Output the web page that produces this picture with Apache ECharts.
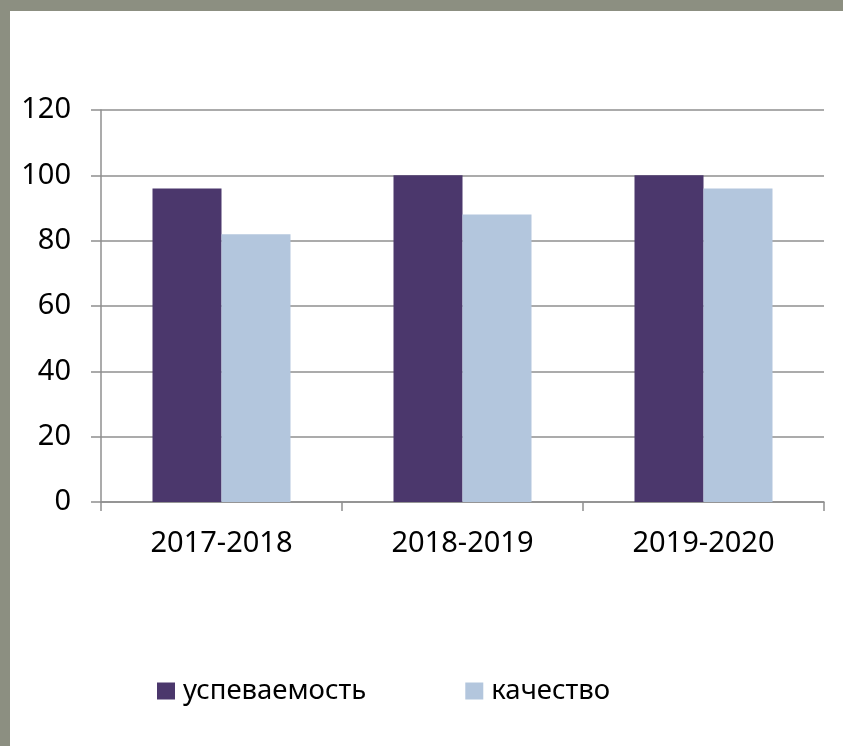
<!DOCTYPE html>
<html>
<head>
<meta charset="utf-8">
<script src="https://cdn.jsdelivr.net/npm/echarts@6/dist/echarts.min.js"></script>
<style>
html,body{margin:0;padding:0;width:843px;height:746px;overflow:hidden;background:#8c8f81;}
#panel{position:absolute;left:10px;top:11px;right:0;bottom:0;background:#ffffff;}
#chart{position:absolute;left:0;top:0;width:843px;height:746px;}
</style>
</head>
<body>
<div id="panel"></div>
<div id="chart"></div>
<script>
const categories = ['2017-2018', '2018-2019', '2019-2020'];
const seriesNames = ['успеваемость', 'качество'];
const uspevaemost = [96, 100, 100];
const kachestvo = [82, 88, 96];
const yTicks = [0, 20, 40, 60, 80, 100, 120];

const chart = echarts.init(document.getElementById('chart'), null, {renderer: 'canvas'});
const font = '"Noto Sans", sans-serif';
chart.setOption({
  backgroundColor: 'transparent',
  animation: false,
  grid: {left: 101, right: 19, top: 110, bottom: 244, containLabel: false},
  legend: {
    left: 152, top: 672,
    itemWidth: 18, itemHeight: 17, itemGap: 99,
    icon: 'rect',
    textStyle: {fontFamily: font, fontSize: 27.5, color: '#000', padding: [0, 0, 0, 3]},
    data: seriesNames
  },
  xAxis: {
    type: 'category',
    data: categories,
    axisLine: {lineStyle: {color: '#8f8f8f', width: 1.5}},
    axisTick: {show: true, length: 9, lineStyle: {color: '#8f8f8f', width: 1.5}},
    axisLabel: {fontFamily: font, fontSize: 29, color: '#000', margin: 27}
  },
  yAxis: {
    type: 'value',
    min: yTicks[0], max: yTicks[yTicks.length - 1], interval: 20,
    axisLine: {show: true, lineStyle: {color: '#8f8f8f', width: 1.5}},
    axisTick: {show: true, inside: false, length: 10, lineStyle: {color: '#8f8f8f', width: 1.5}},
    splitLine: {show: true, lineStyle: {color: '#8f8f8f', width: 1.5}},
    axisLabel: {fontFamily: font, fontSize: 29, color: '#000', margin: 30}
  },
  series: [
    {name: seriesNames[0], type: 'bar', data: uspevaemost, barWidth: 69, barGap: '0%',
     itemStyle: {color: '#4b376c'}},
    {name: seriesNames[1], type: 'bar', data: kachestvo, barWidth: 69,
     itemStyle: {color: '#b3c6dd'}}
  ]
});
</script>
</body>
</html>
